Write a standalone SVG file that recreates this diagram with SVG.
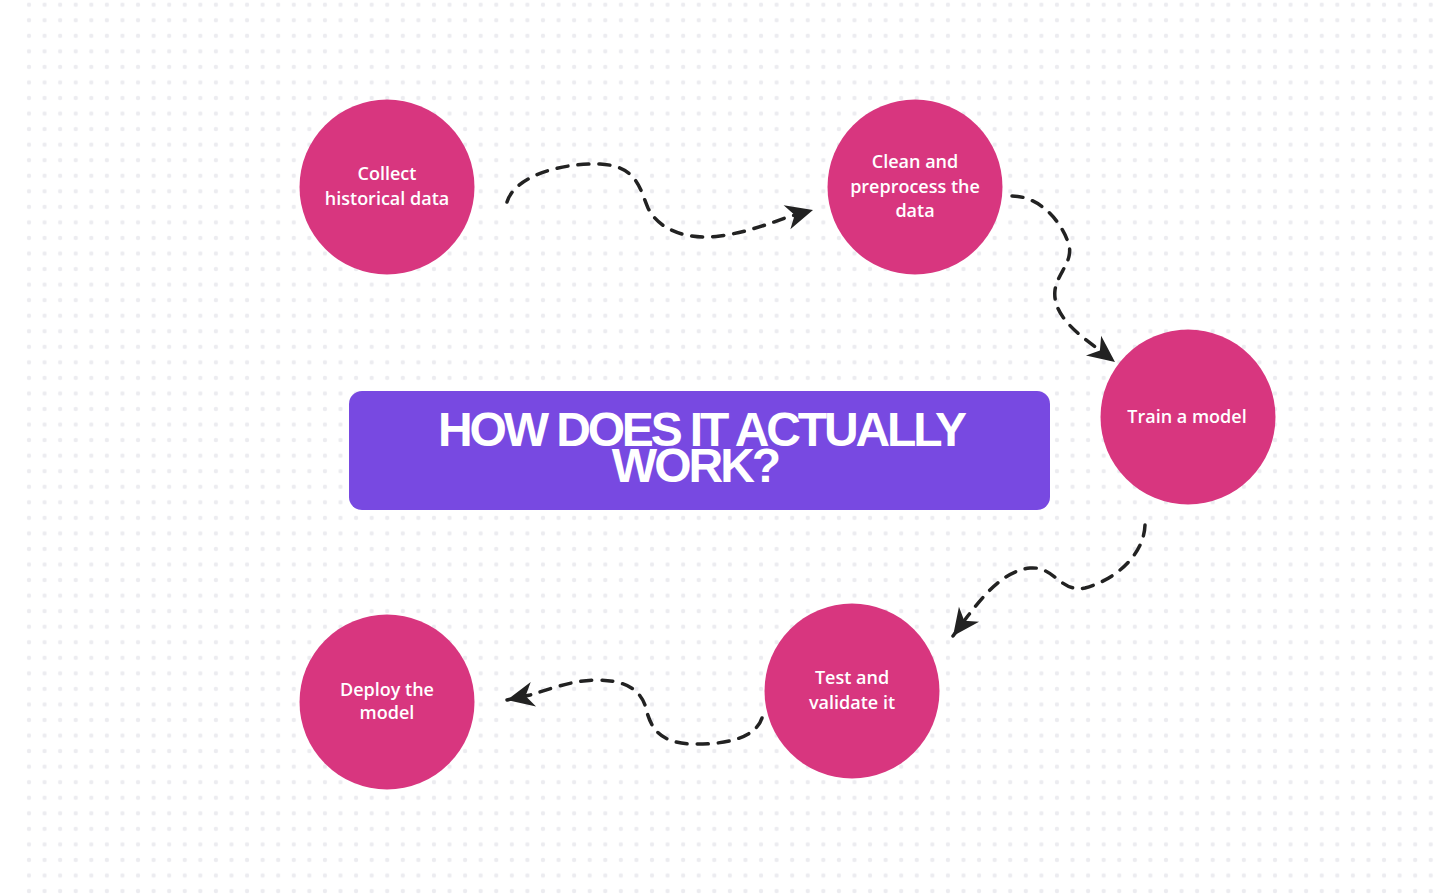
<svg xmlns="http://www.w3.org/2000/svg" width="1438" height="896" viewBox="0 0 1438 896">
  <defs>
    <pattern id="dots" patternUnits="userSpaceOnUse" x="21.21" y="-3.08" width="15.575" height="15.55">
      <circle cx="7.79" cy="7.78" r="2.2" fill="#ececf0"/>
    </pattern>
    <marker id="arrow" markerUnits="userSpaceOnUse" viewBox="-30 -15 32 30" refX="0" refY="0" markerWidth="32" markerHeight="30" orient="auto">
      <path d="M0,0 L-27,-12.5 L-19,0 L-27,12.5 Z" fill="#222222"/>
    </marker>
    <style>
      .node circle { fill: #d8367f; }
      .node text { font-family: "Open Sans", "Liberation Sans", sans-serif; font-weight: 600; font-size: 18px; fill: #ffffff; text-anchor: middle; }
      .conn { fill: none; stroke: #222222; stroke-width: 3.5; stroke-dasharray: 11 10; stroke-linecap: round; }
      .title { font-family: "Liberation Sans", Arial, sans-serif; font-weight: 700; font-size: 48px; fill: #ffffff; text-anchor: middle; letter-spacing: -3px; }
    </style>
  </defs>

  <rect x="0" y="0" width="1438" height="896" fill="#ffffff"/>
  <rect x="21" y="0" width="1417" height="896" fill="url(#dots)"/>

  <g id="title-box">
    <rect x="349" y="391" width="701" height="119" rx="13" ry="13" fill="#7849e1"/>
    <text class="title" x="701" y="446" textLength="526" lengthAdjust="spacing">HOW DOES IT ACTUALLY</text>
    <text class="title" x="695" y="482">WORK?</text>
  </g>

  <g id="connectors">
    <path class="conn" marker-end="url(#arrow)" d="M507,202 C515,176 560,163 600,164 C638,166 640,190 648,208 C660,232 690,240 720,236 C748,232 768,224 788,217 L813,210"/>
    <path class="conn" marker-end="url(#arrow)" d="M1012,196 C1040,196 1062,222 1069,245 C1073,262 1058,272 1055,290 C1052,315 1078,334 1098,349 L1115,362"/>
    <path class="conn" marker-end="url(#arrow)" d="M1145,525 C1144,555 1115,580 1085,588 C1060,593 1055,566 1030,568 C1002,571 982,598 967,617 L953,636"/>
    <path class="conn" marker-end="url(#arrow)" d="M762,718 C755,740 720,745 690,744 C656,742 650,725 645,705 C638,686 620,680 595,680 C570,681 550,689 530,695 L507,700"/>
  </g>

  <g id="node-collect" class="node">
    <circle cx="387" cy="187" r="87.5"/>
    <text x="387" y="180">Collect</text>
    <text x="387" y="205">historical data</text>
  </g>

  <g id="node-clean" class="node">
    <circle cx="915" cy="187" r="87.5"/>
    <text x="915" y="168">Clean and</text>
    <text x="915" y="193">preprocess the</text>
    <text x="915" y="217">data</text>
  </g>

  <g id="node-train" class="node">
    <circle cx="1188" cy="417" r="87.5"/>
    <text x="1187" y="423">Train a model</text>
  </g>

  <g id="node-test" class="node">
    <circle cx="852" cy="691" r="87.5"/>
    <text x="852" y="684">Test and</text>
    <text x="852" y="709">validate it</text>
  </g>

  <g id="node-deploy" class="node">
    <circle cx="387" cy="702" r="87.5"/>
    <text x="387" y="696">Deploy the</text>
    <text x="387" y="719">model</text>
  </g>
</svg>
